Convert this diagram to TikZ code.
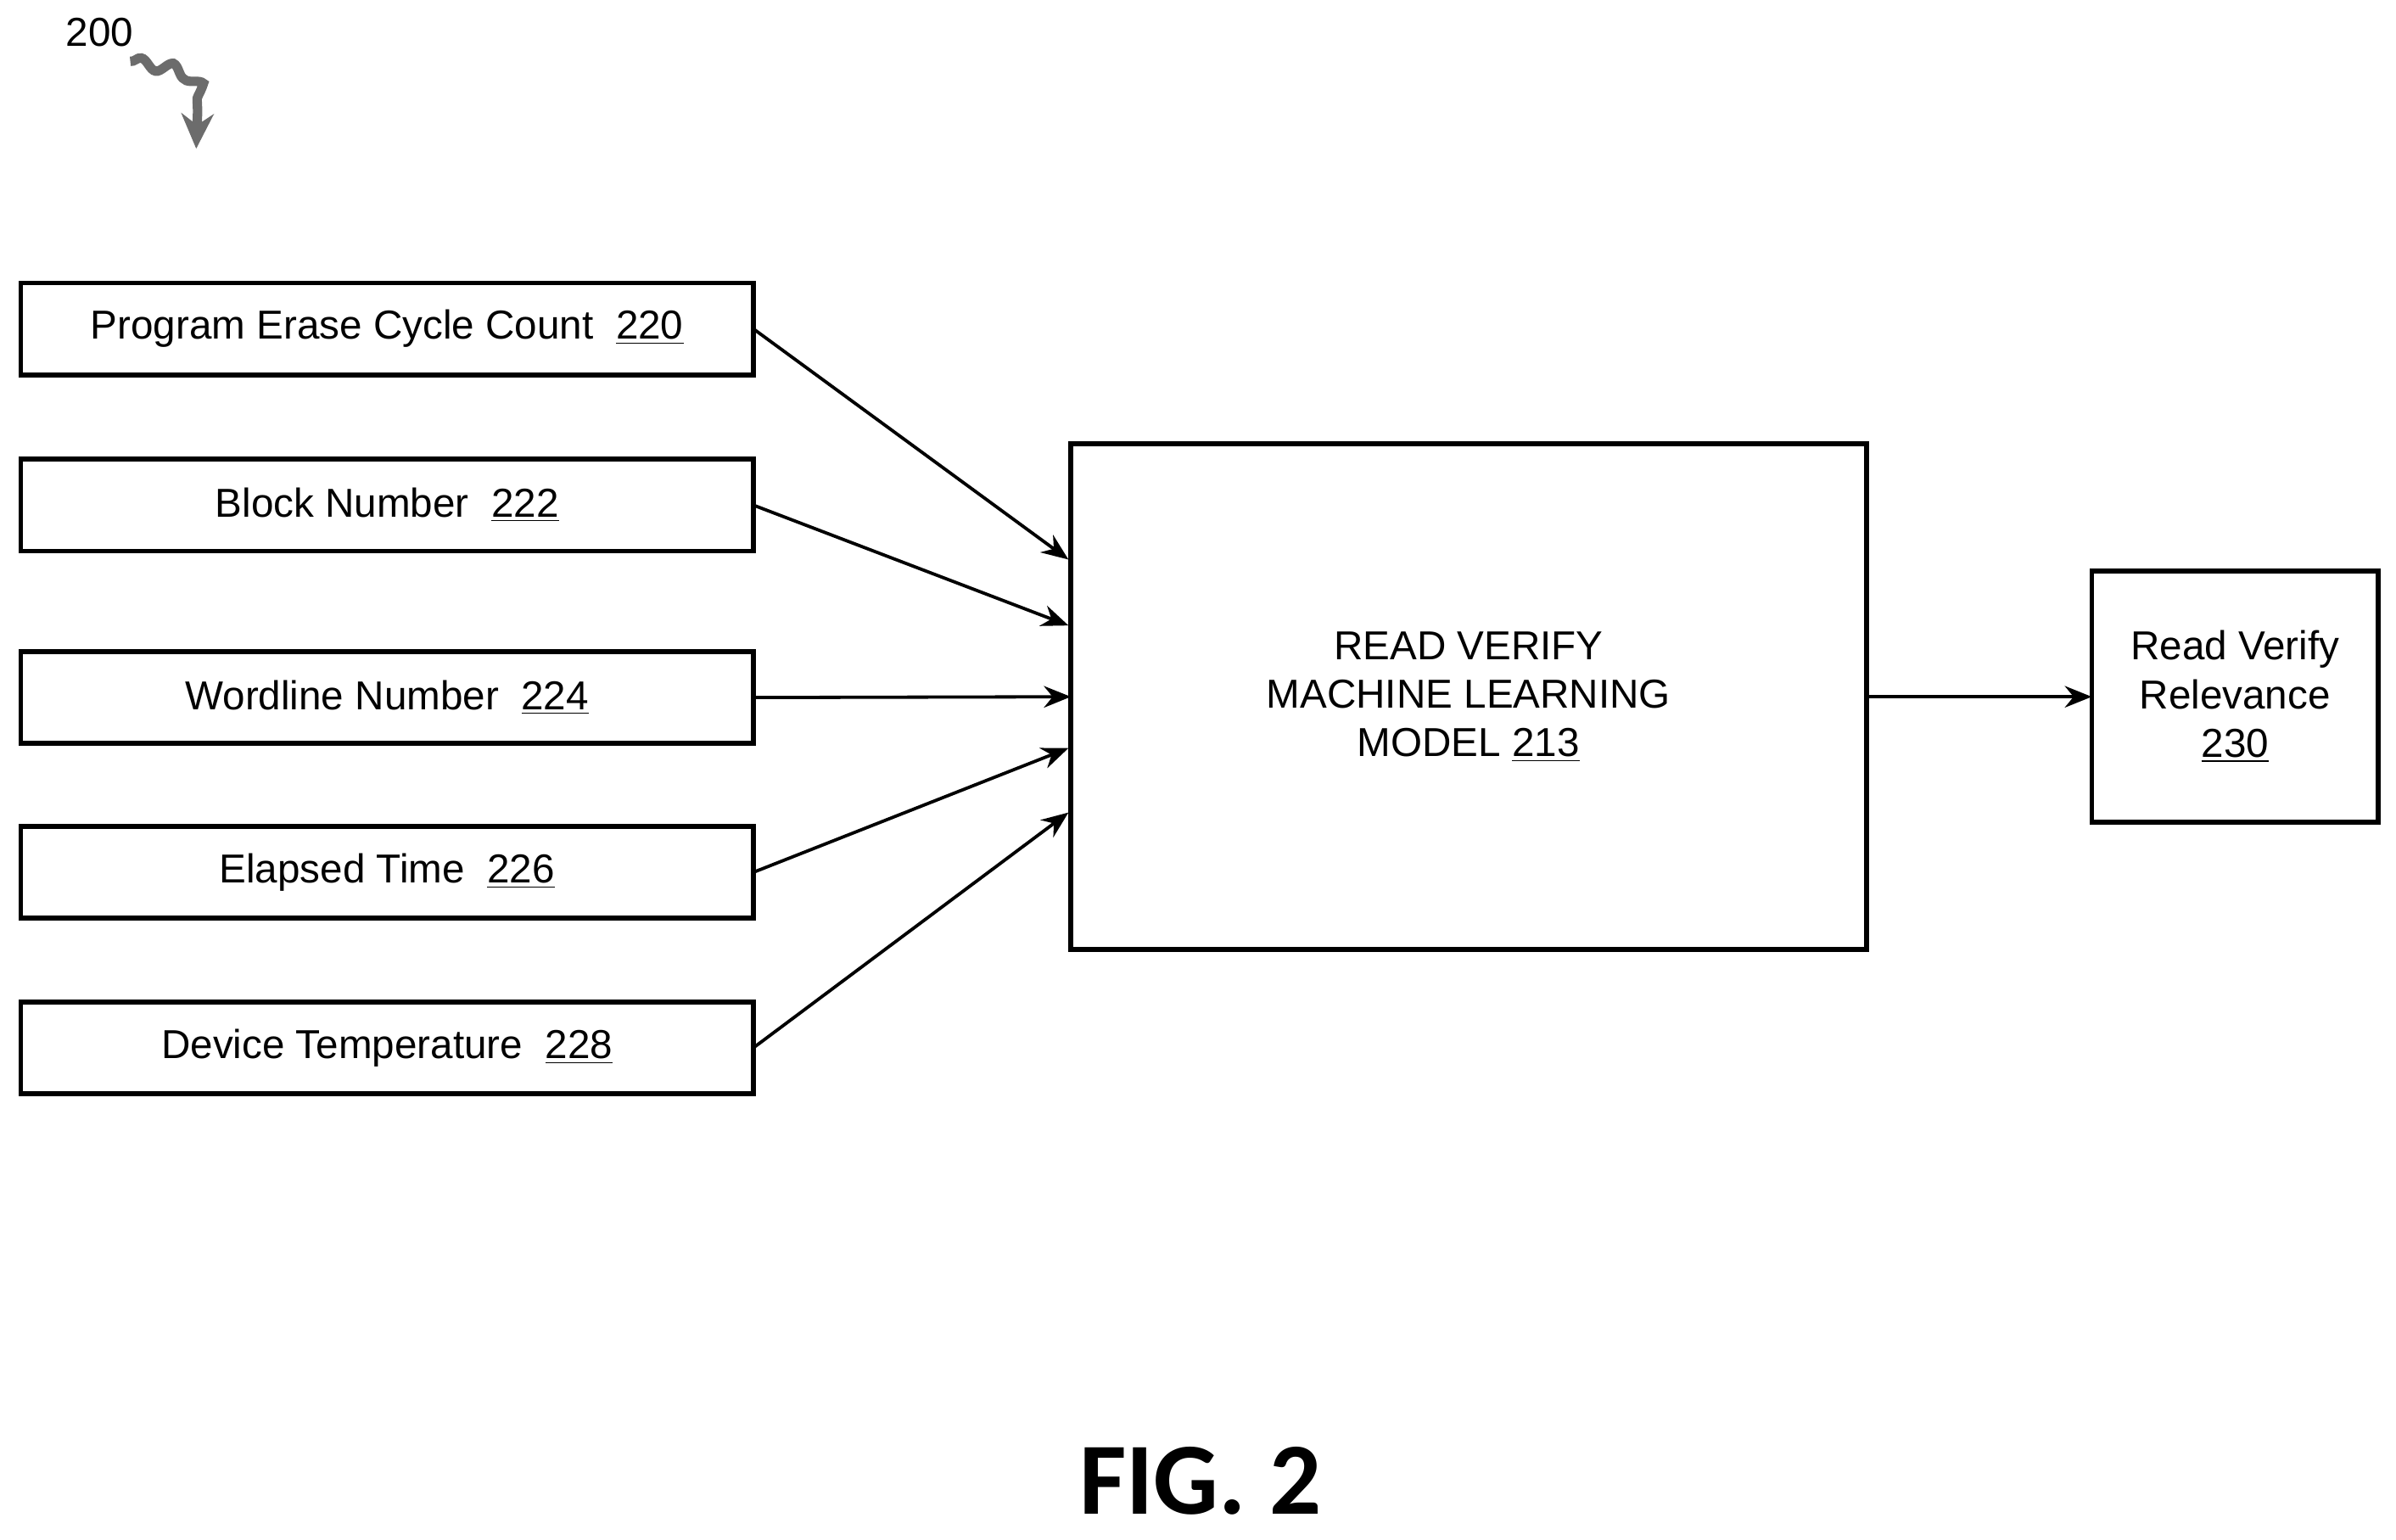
\documentclass[tikz,border=0pt]{standalone}
\usepackage{fontspec}
\setmainfont{Liberation Sans}
\newfontfamily\figfont{Carlito}
\usetikzlibrary{arrows.meta,decorations.pathmorphing}
\begin{document}
\begin{tikzpicture}[x=0.02cm,y=-0.02cm,
 box/.style={draw,line width=1.8pt,inner sep=0pt,outer sep=0pt,font=\fontsize{15}{18}\selectfont,align=center},
 arr/.style={-{Stealth[length=10pt,width=8pt]},line width=1.2pt}]
\useasboundingbox (0,0) rectangle (1563,1004);
\node[box,minimum width=9.56cm,minimum height=1.2cm] (a) at (252.5,214.5) {Program Erase Cycle Count\ \ \underline{220}};
\node[box,minimum width=9.56cm,minimum height=1.2cm] (b) at (252.5,329.5) {Block Number\ \ \underline{222}};
\node[box,minimum width=9.56cm,minimum height=1.2cm] (c) at (252.5,455) {Wordline Number\ \ \underline{224}};
\node[box,minimum width=9.56cm,minimum height=1.2cm] (d) at (252.5,569) {Elapsed Time\ \ \underline{226}};
\node[box,minimum width=9.56cm,minimum height=1.2cm] (e) at (252.5,683.5) {Device Temperature\ \ \underline{228}};
\node[box,minimum width=10.38cm,minimum height=6.6cm] (m) at (958,454.5) {READ VERIFY\\MACHINE LEARNING\\MODEL \underline{213}};
\node[box,minimum width=3.74cm,minimum height=3.28cm] (o) at (1458,454.5) {Read Verify\\Relevance\\\underline{230}};
\coordinate (m1) at (697,365); \coordinate (m2) at (697,408);
\coordinate (m4) at (697,488); \coordinate (m5) at (697,530);
\draw[arr] (a.east) -- (m1);
\draw[arr] (b.east) -- (m2);
\draw[arr] (c.east) -- (m.west);
\draw[arr] (d.east) -- (m4);
\draw[arr] (e.east) -- (m5);
\draw[arr] (m.east) -- (o.west);
\node[font=\fontsize{15}{18}\selectfont] (n) at (65,21) {200};
\coordinate (s) at (85,40);
\coordinate (t) at (128,97);
\draw[gray!85!black,line width=3.5pt,-{Stealth[length=13pt,width=12pt]},decorate,decoration={snake,amplitude=2pt,segment length=12pt,post length=14pt}] (s) .. controls (110,45) and (135,40) .. (t);
\node[font=\figfont\bfseries\fontsize{38}{42}\selectfont] (f) at (783,966) {FIG. 2};
\end{tikzpicture}
\end{document}
